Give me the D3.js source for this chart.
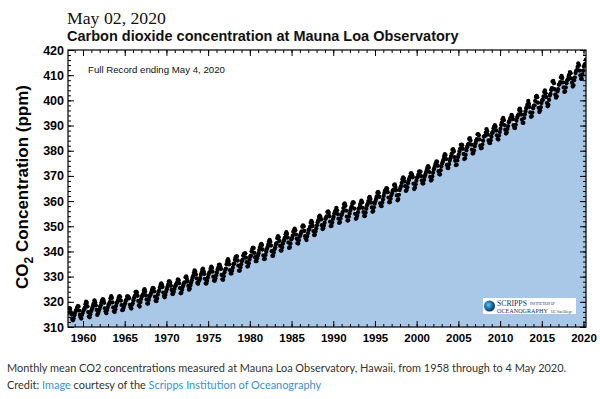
<!DOCTYPE html>
<html><head><meta charset="utf-8">
<script src="https://cdn.jsdelivr.net/npm/d3@7"></script>
<style>body{margin:0;background:#fff}svg{display:block}</style>
</head><body>
<script>
// Monthly mean CO2 (ppm), Mauna Loa, starting March 1958
const firstYear = 1958, firstMonth = 3;
const co2 = [
315.70,317.45,317.51,317.24,315.86,314.93,313.20,312.66,313.33,314.67,
315.58,316.49,316.65,317.72,318.29,318.15,316.54,314.80,313.84,313.33,314.81,315.58,
316.43,316.98,317.58,319.03,320.03,319.59,318.18,315.91,314.16,313.83,315.00,316.19,
316.89,317.70,318.54,319.48,320.58,319.77,318.57,316.79,314.80,315.38,316.10,317.01,
317.94,318.55,319.68,320.57,321.02,320.62,319.61,317.40,316.25,315.42,316.69,317.70,
318.74,319.07,319.86,321.38,322.25,321.48,319.74,317.77,316.21,315.99,317.07,318.35,
319.57,320.01,320.74,321.84,322.26,321.89,320.44,318.69,316.70,316.87,317.68,318.71,
319.44,320.44,320.89,322.13,322.16,321.87,321.39,318.81,317.81,317.30,318.87,319.42,
320.62,321.59,322.39,323.87,324.01,323.75,322.39,320.37,318.64,318.10,319.79,321.08,
322.07,322.50,323.04,324.42,325.00,324.09,322.55,320.92,319.31,319.31,320.72,321.96,
322.57,323.15,323.89,325.02,325.57,325.36,324.14,322.03,320.41,320.25,321.31,322.84,
324.00,324.42,325.64,326.66,327.34,326.76,325.88,323.67,322.38,321.78,322.85,324.12,
325.03,325.99,326.87,328.13,328.07,327.66,326.35,324.69,323.10,323.16,323.98,325.13,
326.17,326.68,327.18,327.78,328.92,328.57,327.34,325.46,323.36,323.57,324.80,326.01,
326.77,327.63,327.75,329.72,330.07,329.09,328.04,326.32,324.84,325.20,326.50,327.55,
328.55,329.56,330.30,331.50,332.48,332.07,330.87,329.31,327.51,327.18,328.16,328.64,
329.35,330.71,331.48,332.65,333.20,332.16,331.07,329.12,327.32,327.28,328.30,329.58,
330.73,331.46,331.90,333.17,333.94,333.45,331.97,329.95,328.50,328.34,329.37,330.58,
331.59,332.75,333.52,334.64,334.77,334.00,333.06,330.68,328.95,328.75,330.15,331.62,
332.66,333.13,334.95,336.13,336.93,336.17,334.88,332.56,331.29,331.27,332.41,333.60,
334.95,335.25,336.66,337.69,338.03,338.01,336.41,334.41,332.37,332.41,333.75,334.90,
336.14,336.69,338.27,338.95,339.21,339.26,337.54,335.75,333.98,334.19,335.31,336.81,
337.90,338.34,340.01,340.93,341.48,341.33,339.40,337.70,336.19,336.15,337.27,338.32,
339.29,340.55,341.62,342.53,343.03,342.54,340.78,338.44,336.95,337.08,338.58,339.88,
340.96,341.73,342.81,343.97,344.63,343.79,342.32,340.09,338.28,338.29,339.60,340.90,
341.68,342.90,343.33,345.25,346.03,345.63,344.19,342.27,340.35,340.38,341.59,343.05,
344.10,344.79,345.52,346.84,347.63,346.98,345.53,343.55,341.40,341.67,343.10,344.70,
345.21,346.16,347.74,348.34,349.06,348.38,346.72,345.02,343.27,343.13,344.49,345.88,
346.56,347.28,348.01,349.77,350.38,349.93,348.16,346.08,345.22,344.51,345.93,347.21,
348.52,348.73,349.73,351.31,352.09,351.53,350.11,348.08,346.52,346.59,347.96,349.16,
350.39,351.64,352.41,353.69,354.21,353.72,352.69,350.40,348.92,349.13,350.20,351.41,
352.91,353.27,353.96,355.64,355.86,355.37,353.99,351.81,350.05,350.25,351.49,352.85,
353.80,355.04,355.73,356.32,357.32,356.34,354.84,353.01,351.31,351.62,353.07,354.33,
354.84,355.73,357.23,358.66,359.13,358.13,356.19,353.85,352.25,352.35,353.81,355.12,
356.25,357.11,357.86,359.09,359.59,359.33,357.01,354.94,352.96,353.32,354.32,355.57,
357.00,357.31,358.47,359.27,360.19,359.52,357.33,355.64,354.03,354.12,355.41,356.91,
358.24,358.92,359.99,361.23,361.65,360.81,359.38,357.46,355.73,356.08,357.53,358.98,
359.92,360.86,361.83,363.30,363.69,363.19,361.64,359.12,358.17,357.99,359.45,360.68,
362.07,363.24,364.17,364.57,365.13,364.92,363.55,361.38,359.54,359.58,360.89,362.24,
363.09,364.03,364.51,366.35,366.64,365.59,364.31,362.25,360.29,360.82,362.49,364.38,
365.26,365.98,367.24,368.66,369.42,368.99,367.82,365.95,364.02,364.40,365.52,367.13,
368.18,369.07,369.68,370.99,370.96,370.30,369.45,366.90,364.81,365.37,366.72,368.10,
369.29,369.54,370.60,371.82,371.58,371.70,369.86,368.13,367.00,367.03,368.37,369.67,
370.59,371.51,372.43,373.37,373.85,373.21,371.51,369.61,368.18,368.45,369.76,371.24,
372.53,373.20,374.12,375.02,375.76,375.52,374.01,371.85,370.75,370.55,372.25,373.79,
374.88,375.64,376.45,377.73,378.60,378.28,376.70,374.38,373.17,373.14,374.66,375.99,
377.00,377.87,378.88,380.35,380.62,379.69,377.47,376.01,374.25,374.46,376.16,377.51,
378.46,379.73,380.77,382.29,382.45,382.21,380.74,378.74,376.70,377.00,378.35,380.11,
381.38,382.19,382.67,384.61,385.03,384.05,382.46,380.41,378.85,379.13,380.15,381.82,
382.89,383.90,384.58,386.50,386.56,386.10,384.50,381.99,380.96,381.12,382.45,383.95,
385.52,385.82,386.03,387.21,388.54,387.76,386.36,384.09,383.18,382.99,384.19,385.56,
386.94,387.48,388.82,389.55,390.14,389.48,388.03,386.11,384.74,384.43,386.02,387.42,
388.71,390.20,391.17,392.46,393.00,392.15,390.20,388.35,386.85,387.24,388.67,389.79,
391.33,391.86,392.60,393.25,394.19,393.74,392.51,390.13,389.08,389.00,390.28,391.86,
393.12,393.86,394.40,396.18,396.74,395.71,394.36,392.39,391.11,391.05,392.98,394.34,
395.55,396.80,397.43,398.41,399.78,398.60,397.32,395.20,393.45,393.70,395.16,396.84,
397.85,398.01,399.77,401.38,401.78,401.25,399.10,397.03,395.38,396.03,397.28,398.91,
399.98,400.28,401.54,403.28,403.96,402.80,401.31,398.93,397.63,398.29,400.16,401.85,
402.56,404.12,404.87,407.45,407.72,406.83,404.41,402.27,401.05,401.59,403.55,404.45,
406.17,406.46,407.22,409.04,409.69,408.88,407.12,405.13,403.37,403.63,405.12,406.81,
407.96,408.32,409.41,410.24,411.24,410.79,408.71,406.99,405.51,406.00,408.02,409.07,
410.83,411.75,411.97,413.32,414.66,413.92,411.77,409.95,408.54,408.53,410.27,411.76,
413.40,414.11,414.50,416.21
];
const yTicks = [310,320,330,340,350,360,370,380,390,400,410,420];
const xTicks = [1960,1965,1970,1975,1980,1985,1990,1995,2000,2005,2010,2015,2020];
const dateText = "May 02, 2020";
const titleText = "Carbon dioxide concentration at Mauna Loa Observatory";
const noteText = "Full Record ending May 4, 2020";

const W = 600, H = 399;
const L = 68, R = 586, T = 50, B = 327;
const svg = d3.select("body").append("svg").attr("width", W).attr("height", H)
  .style("font-family", "'Liberation Sans', Arial, sans-serif");

const data = co2.map((v, i) => ({t: firstYear + (firstMonth - 1 + i + 0.5) / 12, v}));
const x = d3.scaleLinear().domain([1958.2, 2020.3]).range([L, R]);
const y = d3.scaleLinear().domain([310, 420]).range([B, T]);

function fit(sel, w) {
  const l = sel.node().getComputedTextLength();
  sel.attr("font-size", parseFloat(sel.attr("font-size")) * w / l);
}

// area
svg.append("clipPath").attr("id", "pc").append("rect")
  .attr("x", L).attr("y", T).attr("width", R - L).attr("height", B - T);
svg.append("path").datum(data)
  .attr("clip-path", "url(#pc)")
  .attr("fill", "#a9c7e7")
  .attr("d", d3.area().x(d => x(d.t)).y0(B).y1(d => y(d.v)));

// dots
svg.append("g").attr("clip-path", "url(#pc)").selectAll("circle").data(data).join("circle")
  .attr("cx", d => x(d.t)).attr("cy", d => y(d.v)).attr("r", 2.15).attr("fill", "#000");

// axes (inward ticks)
const minorY = d3.range(310, 421, 2);
const minorX = d3.range(1959, 2021, 1);
function styleAxis(g) { g.select(".domain").remove(); g.selectAll("line").attr("stroke", "#000"); }

svg.append("g").attr("transform", `translate(${L},0)`)
  .call(d3.axisLeft(y).tickValues(minorY).tickSize(-3).tickFormat(""))
  .call(styleAxis);
svg.append("g").attr("transform", `translate(${L},0)`)
  .call(d3.axisLeft(y).tickValues(yTicks).tickSize(-6).tickPadding(4).tickFormat(d3.format("d")))
  .call(styleAxis)
  .call(g => g.selectAll("text").attr("font-size", 12.5).attr("font-weight", "bold").attr("fill", "#000")
    .attr("font-family", "'Liberation Sans', Arial, sans-serif"));
svg.append("g").attr("transform", `translate(${R},0)`)
  .call(d3.axisRight(y).tickValues(minorY).tickSize(-3).tickFormat(""))
  .call(styleAxis);
svg.append("g").attr("transform", `translate(${R},0)`)
  .call(d3.axisRight(y).tickValues(yTicks).tickSize(-6).tickFormat(""))
  .call(styleAxis);
svg.append("g").attr("transform", `translate(0,${T})`)
  .call(d3.axisTop(x).tickValues(minorX).tickSize(-3).tickFormat(""))
  .call(styleAxis);
svg.append("g").attr("transform", `translate(0,${T})`)
  .call(d3.axisTop(x).tickValues(xTicks).tickSize(-6).tickFormat(""))
  .call(styleAxis);
svg.append("g").attr("transform", `translate(0,${B})`)
  .call(d3.axisBottom(x).tickValues(minorX).tickSize(-3).tickFormat(""))
  .call(styleAxis);
svg.append("g").attr("transform", `translate(0,${B})`)
  .call(d3.axisBottom(x).tickValues(xTicks).tickSize(-6).tickPadding(7).tickFormat(d3.format("d")))
  .call(styleAxis)
  .call(g => g.selectAll("text").attr("font-size", 11.5).attr("font-weight", "bold").attr("fill", "#000")
    .attr("font-family", "'Liberation Sans', Arial, sans-serif"));

// frame
svg.append("rect").attr("x", L).attr("y", T).attr("width", R - L).attr("height", B - T)
  .attr("fill", "none").attr("stroke", "#000").attr("stroke-width", 1.2);

// titles
const t1 = svg.append("text").attr("x", 67).attr("y", 24).attr("font-size", 18)
  .attr("font-family", "'Liberation Serif', 'Times New Roman', serif").attr("fill", "#111").text(dateText);
fit(t1, 99);
const t2 = svg.append("text").attr("x", 67).attr("y", 41).attr("font-size", 14.5)
  .attr("font-weight", "bold").attr("fill", "#111").text(titleText);
fit(t2, 392);
const t3 = svg.append("text").attr("x", 88).attr("y", 73).attr("font-size", 10)
  .attr("fill", "#111").text(noteText);
fit(t3, 137);

// y-axis title
const yt = svg.append("text").attr("transform", "translate(28,187) rotate(-90)")
  .attr("text-anchor", "middle").attr("font-size", 17).attr("font-weight", "bold").attr("fill", "#000");
yt.append("tspan").text("CO");
yt.append("tspan").attr("font-size", 12).attr("dy", 5).text("2");
yt.append("tspan").attr("dy", -5).text(" Concentration (ppm)");

// logo
const lg = svg.append("g");
const defs = svg.append("defs");
const rg = defs.append("radialGradient").attr("id", "globe").attr("cx", "40%").attr("cy", "40%").attr("r", "60%");
rg.append("stop").attr("offset", "0%").attr("stop-color", "#5fc6e0");
rg.append("stop").attr("offset", "60%").attr("stop-color", "#1a6aa8");
rg.append("stop").attr("offset", "100%").attr("stop-color", "#0b2f66");
lg.append("rect").attr("x", 483).attr("y", 298).attr("width", 93).attr("height", 16).attr("fill", "#fff");
lg.append("circle").attr("cx", 489.5).attr("cy", 306).attr("r", 5.5).attr("fill", "url(#globe)");
const serif = "'Liberation Serif', 'Times New Roman', serif";
const s1 = lg.append("text").attr("x", 497).attr("y", 305.5).attr("font-family", serif).attr("font-size", 8).attr("fill", "#1a2f5a").text("SCRIPPS");
fit(s1, 30);
const s2 = lg.append("text").attr("x", 530).attr("y", 305).attr("font-family", serif).attr("font-size", 3.5).attr("fill", "#1a2f5a").text("INSTITUTION OF");
fit(s2, 25);
const s3 = lg.append("text").attr("x", 497).attr("y", 312.5).attr("font-family", serif).attr("font-size", 8).attr("fill", "#1a2f5a").text("OCEANOGRAPHY");
fit(s3, 51);
const s4 = lg.append("text").attr("x", 551).attr("y", 312.5).attr("font-family", serif).attr("font-size", 3.2).attr("fill", "#1a2f5a").text("UC San Diego");
fit(s4, 21);

// caption
const capFont = "Lato, 'Open Sans', sans-serif";
const c1 = svg.append("text").attr("x", 7).attr("y", 372).attr("font-size", 13)
  .attr("font-family", capFont).attr("fill", "#333")
  .text("Monthly mean CO2 concentrations measured at Mauna Loa Observatory, Hawaii, from 1958 through to 4 May 2020.");
fit(c1, 560);
const c2 = svg.append("text").attr("x", 7).attr("y", 389).attr("font-size", c1.attr("font-size"))
  .attr("font-family", capFont).attr("fill", "#333");
c2.append("tspan").text("Credit: ");
c2.append("tspan").attr("fill", "#3d8fcf").text("Image");
c2.append("tspan").text(" courtesy of the ");
c2.append("tspan").attr("fill", "#3d8fcf").text("Scripps Institution of Oceanography");
</script>
</body></html>
